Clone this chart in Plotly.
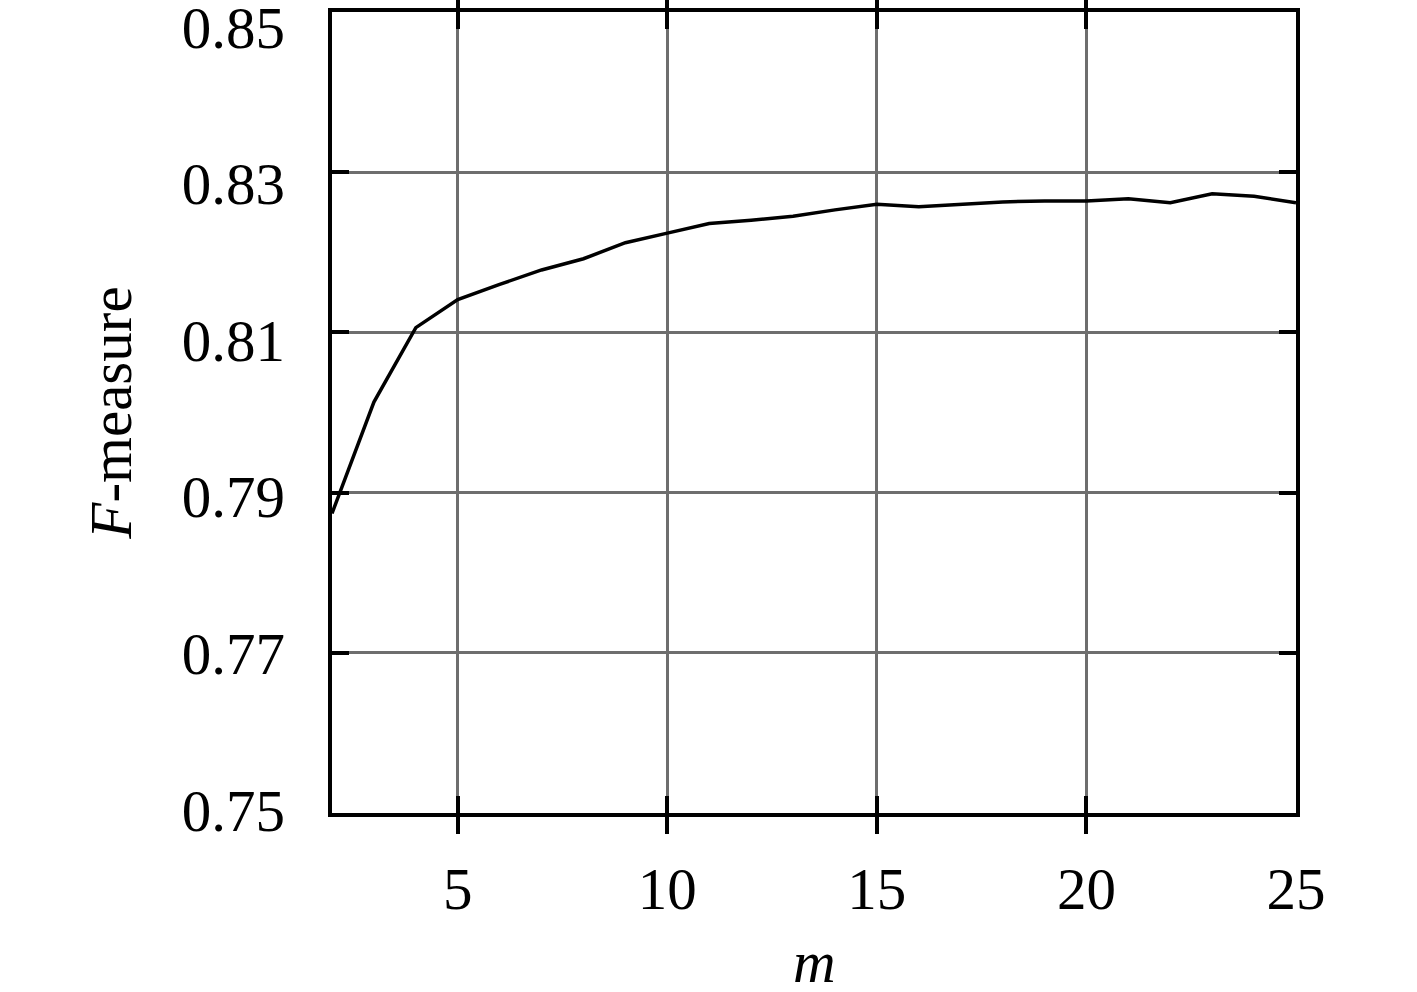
import plotly.graph_objects as go

m_values = list(range(2, 26))
f_measure = [0.7874, 0.8013, 0.8106, 0.8141, 0.8160, 0.8178, 0.8192, 0.8212,
             0.8224, 0.8236, 0.8240, 0.8245, 0.8253, 0.8260, 0.8257, 0.8260,
             0.8263, 0.8264, 0.8264, 0.8267, 0.8262, 0.8273, 0.8270, 0.8262]
x_ticks = [5, 10, 15, 20, 25]
y_ticks = [0.75, 0.77, 0.79, 0.81, 0.83, 0.85]
x_title = "<i>m</i>"
y_title = "<i>F</i>-measure"

FONT = "Liberation Serif"
TICKFONT = dict(family=FONT, size=59, color="black")

fig = go.Figure()
fig.add_trace(go.Scatter(x=m_values, y=f_measure, mode="lines",
                         line=dict(color="black", width=3.5), showlegend=False))
# empty helper trace so that the label axis (y2) is drawn
fig.add_trace(go.Scatter(x=[m_values[0]], y=[None], yaxis="y2", mode="lines",
                         showlegend=False, hoverinfo="skip"))

common = dict(showline=True, linecolor="black", linewidth=3.5, mirror="allticks",
              ticks="inside", ticklen=17, tickwidth=3.5, tickcolor="black",
              showgrid=True, gridcolor="#6e6e6e", gridwidth=3, zeroline=False,
              ticklabeloverflow="allow", tickfont=TICKFONT)

fig.update_xaxes(range=[2, 25.0001], tickvals=x_ticks, ticklabelstandoff=21, **common)
fig.update_yaxes(range=[0.74999, 0.85001], tickvals=y_ticks, showticklabels=False,
                 **common)

fig.add_annotation(text=x_title, xref="paper", yref="paper", x=0.5, y=0,
                   xanchor="center", yanchor="middle", yshift=-149, showarrow=False,
                   font=dict(family=FONT, size=59, color="black"))

fig.update_layout(
    yaxis2=dict(overlaying="y", side="left", anchor="x",
                range=[0.74962, 0.85192], tickvals=y_ticks, tickformat=".2f",
                showgrid=False, showline=False, zeroline=False, ticks="",
                ticklabelstandoff=46, ticklabeloverflow="allow", tickfont=TICKFONT,
                title=dict(text=y_title,
                           font=dict(family=FONT, size=59, color="black"),
                           standoff=31)),
    width=1417, height=992, plot_bgcolor="white", paper_bgcolor="white",
    margin=dict(l=332, r=121, t=12, b=179, autoexpand=False),
    font=dict(family=FONT, color="black"))

fig.write_html("out.html", config={"displayModeBar": False},
               post_script="document.body.style.margin='0px';")
